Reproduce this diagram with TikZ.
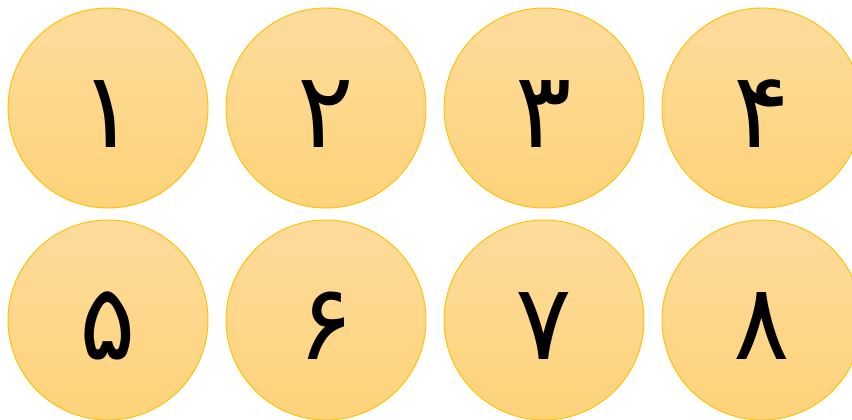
\documentclass[tikz,border=0pt]{standalone}
\usepackage{fontspec}
\usepackage{tikz}
\newfontfamily\persianfont[Script=Arabic]{DejaVu Sans}
\definecolor{goldline}{RGB}{255,192,0}
\definecolor{peachtop}{RGB}{253,219,155}
\definecolor{peachbot}{RGB}{253,211,122}
\tikzset{
  num/.style={circle,draw=goldline,line width=0.8pt,top color=peachtop,bottom color=peachbot,minimum size=6cm,inner sep=0pt,text height=68pt,text depth=0pt,font=\persianfont\fontsize{90}{96}\selectfont}
}
\begin{document}
\begin{tikzpicture}[x=0.03cm,y=-0.03cm]
\useasboundingbox (0,0) rectangle (852,419);
\node[num] (n1) at (108,108) {۱};
\node[num] (n2) at (326,108) {۲};
\node[num] (n3) at (544,108) {۳};
\node[num] (n4) at (762,108) {۴};
\node[num] (n5) at (108,320) {۵};
\node[num] (n6) at (326,320) {۶};
\node[num] (n7) at (544,320) {۷};
\node[num] (n8) at (762,320) {۸};
\end{tikzpicture}
\end{document}
